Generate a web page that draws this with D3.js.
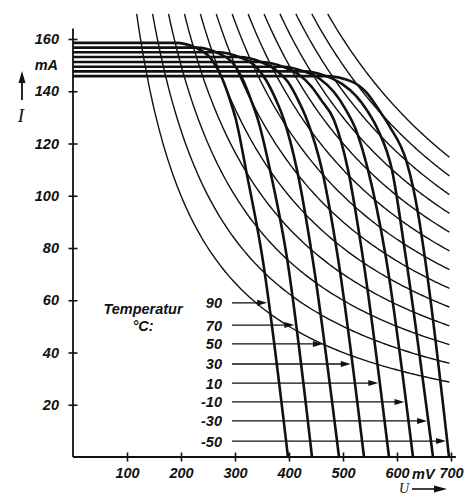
<!DOCTYPE html>
<html><head><meta charset="utf-8">
<script src="https://cdn.jsdelivr.net/npm/d3@7"></script>
<style>
body{margin:0;background:#fff}
text{font-family:"Liberation Sans Narrow","Liberation Sans",Arial,sans-serif;font-weight:bold;font-style:italic;fill:#111}
</style>
</head><body>
<script>
// ---- data (voltage in mV, current in mA) ----
const temps = ["90", "70", "50", "30", "10", "-10", "-30", "-50"];
const curve90  = [[0,158.5],[188.9,158.5],[227.8,156.6],[257.4,152.0],[275.9,145.1],[290.7,136.7],[301.9,129.0],[320.4,109.9],[350.0,77.3],[398.1,0]];
const curve70  = [[0,156.7],[227.8,156.7],[268.5,154.6],[296.3,150.7],[313.0,145.1],[329.6,136.7],[342.6,129.0],[364.8,109.9],[395.4,77.3],[442.6,0]];
const curve50  = [[0,154.9],[268.5,154.9],[307.4,153.1],[337.0,149.7],[357.4,144.3],[375.9,136.7],[390.7,129.0],[414.8,109.9],[442.6,77.3],[492.6,0]];
const curve30  = [[0,153.1],[307.4,153.1],[348.1,151.2],[375.9,148.1],[398.1,143.5],[416.7,136.7],[433.3,129.0],[461.1,109.9],[489.8,77.3],[538.9,0]];
const curve10  = [[0,151.2],[348.1,151.2],[388.9,149.4],[416.7,146.6],[440.7,142.0],[459.3,136.7],[483.3,129.0],[509.3,109.9],[536.1,77.3],[585.2,0]];
const curveM10 = [[0,149.4],[388.9,149.4],[427.8,147.6],[457.4,144.7],[483.3,139.7],[505.6,132.8],[524.1,125.2],[546.3,109.9],[578.7,77.3],[629.6,0]];
const curveM30 = [[0,147.6],[427.8,147.6],[468.5,145.8],[498.1,142.8],[524.1,138.2],[546.3,132.1],[564.8,125.2],[590.7,109.9],[615.7,77.3],[666.7,0]];
const curveM50 = [[0,145.8],[468.5,145.8],[518.5,143.5],[544.4,139.3],[566.7,132.8],[587.0,126.3],[616.7,113.7],[629.6,103.4],[638.9,93.4],[650.9,77.3],[696.3,0]];
const ivCurves = [curve90, curve70, curve50, curve30, curve10, curveM10, curveM30, curveM50];
const arrowLevels = [59, 50.5, 43.3, 35.6, 28.3, 21.1, 13.8, 6.1];   // mA at which each label arrow points
const powers = [20, 25, 30, 35, 40, 45, 50, 55, 60, 65, 70, 75, 80]; // mW, constant-power hyperbolas
const hyperTopI = 169.6;
const hyperMaxV = 697;
const yTicks = [20, 40, 60, 80, 100, 120, 140, 160];
const xTicks = [100, 200, 300, 400, 500, 600, 700];

// ---- layout ----
const W = 476, H = 497;
const svg = d3.select("body").append("svg").attr("width", W).attr("height", H);
const x = d3.scaleLinear().domain([0, 700]).range([73, 451]);
const y = d3.scaleLinear().domain([0, 160]).range([457, 39]);
const ink = "#111";
const fs = "14.5px";

// hyperbolas
const hyperLine = d3.line().x(d => x(d[0])).y(d => y(d[1]));
powers.forEach(P => {
  const v0 = P / hyperTopI * 1000;
  const pts = d3.range(0, 121).map(i => {
    const v = v0 + (hyperMaxV - v0) * i / 120;
    return [v, P / v * 1000];
  });
  svg.append("path").attr("d", hyperLine(pts))
    .attr("fill", "none").attr("stroke", ink).attr("stroke-width", 1.4);
});

// I-V curves
const ivLine = d3.line().x(d => x(d[0])).y(d => y(d[1])).curve(d3.curveMonotoneX);
ivCurves.forEach(c => {
  svg.append("path").attr("d", ivLine(c))
    .attr("fill", "none").attr("stroke", ink).attr("stroke-width", 2.6)
    .attr("stroke-linejoin", "round");
});

// axes
const yAxis = d3.axisLeft(y).tickValues(yTicks).tickSize(4).tickPadding(10);
const gy = svg.append("g").attr("transform", `translate(${x(0)},0)`).call(yAxis);
gy.select(".domain").remove();
gy.selectAll(".tick line").attr("x1", -4.5).attr("x2", 4.5).attr("stroke", ink).attr("stroke-width", 1.6);
gy.selectAll(".tick text").style("font-size", fs).attr("fill", ink);

const xAxis = d3.axisBottom(x).tickValues(xTicks).tickSize(4).tickPadding(7);
const gx = svg.append("g").attr("transform", `translate(0,${y(0)})`).call(xAxis);
gx.select(".domain").remove();
gx.selectAll(".tick line").attr("y1", -4.5).attr("y2", 4.5).attr("stroke", ink).attr("stroke-width", 1.6);
gx.selectAll(".tick text").style("font-size", fs).attr("fill", ink);

svg.append("line").attr("x1", x(0)).attr("x2", x(0)).attr("y1", y(164)).attr("y2", y(0))
  .attr("stroke", ink).attr("stroke-width", 1.8);
svg.append("line").attr("x1", x(0)).attr("x2", x(709)).attr("y1", y(0)).attr("y2", y(0))
  .attr("stroke", ink).attr("stroke-width", 1.8);

// units
svg.append("text").attr("x", x(0) - 15).attr("y", y(150) + 5).attr("text-anchor", "end")
  .style("font-size", fs).text("mA");
svg.append("text").attr("x", x(600) + 15).attr("y", y(0) + 22)
  .style("font-size", fs).text("mV");

// axis titles with arrows
const titleFont = '"Liberation Serif","DejaVu Serif",serif';
svg.append("text").attr("x", 21).attr("y", 122).attr("text-anchor", "middle")
  .style("font-family", titleFont).style("font-weight", "normal").style("font-size", "19px").text("I");
svg.append("line").attr("x1", 22).attr("x2", 22).attr("y1", 100).attr("y2", 80).attr("stroke", ink).attr("stroke-width", 1.8);
svg.append("path").attr("d", "M22,71 L18.5,83 L25.5,83 Z").attr("fill", ink);

svg.append("text").attr("x", 404).attr("y", 493).attr("text-anchor", "middle")
  .style("font-family", titleFont).style("font-weight", "normal").style("font-size", "14px").text("U");
svg.append("line").attr("x1", 412).attr("x2", 436).attr("y1", 489).attr("y2", 489).attr("stroke", ink).attr("stroke-width", 1.6);
svg.append("path").attr("d", "M447,489 L434,485.5 L434,492.5 Z").attr("fill", ink);

// temperature legend
svg.append("text").attr("x", 143).attr("y", 314).attr("text-anchor", "middle")
  .style("font-size", fs).text("Temperatur");
svg.append("text").attr("x", 143).attr("y", 331).attr("text-anchor", "middle")
  .style("font-size", fs).text("°C:");

function vAt(curve, I) {
  for (let i = 0; i < curve.length - 1; i++) {
    const a = curve[i], b = curve[i + 1];
    if (I <= a[1] && I >= b[1] && a[1] !== b[1]) {
      return a[0] + (b[0] - a[0]) * (a[1] - I) / (a[1] - b[1]);
    }
  }
  return curve[curve.length - 1][0];
}

temps.forEach((t, i) => {
  const yy = y(arrowLevels[i]);
  const tip = x(vAt(ivCurves[i], arrowLevels[i])) - 1;
  svg.append("text").attr("x", 222).attr("y", yy + 5.5).attr("text-anchor", "end")
    .style("font-size", fs).text(t);
  svg.append("line").attr("x1", 232).attr("x2", tip - 8).attr("y1", yy).attr("y2", yy)
    .attr("stroke", ink).attr("stroke-width", 1.3);
  svg.append("path").attr("d", `M${tip},${yy} L${tip - 10},${yy - 3} L${tip - 10},${yy + 3} Z`).attr("fill", ink);
});
</script>
</body></html>
